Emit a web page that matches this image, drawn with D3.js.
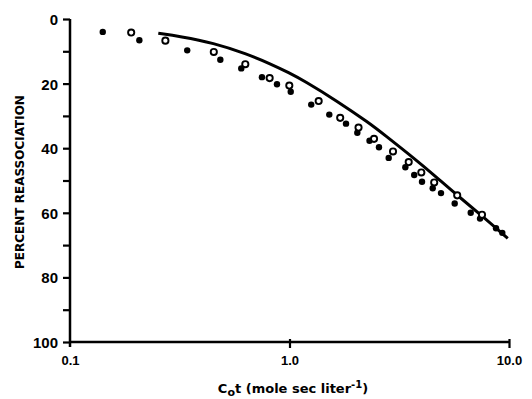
<!DOCTYPE html>
<html><head><meta charset="utf-8">
<script src="https://cdn.jsdelivr.net/npm/d3@7"></script>
<style>body{margin:0;background:#fff}text{font-family:"Liberation Sans",Arial,sans-serif;font-weight:bold;fill:#000}.ttl{font-family:"DejaVu Sans",sans-serif}</style>
</head><body><svg id="c" width="532" height="399"></svg>
<script>
// Filled circles (Cot, percent reassociation)
const filledCot = [0.141,0.207,0.342,0.484,0.603,0.749,0.877,1.013,1.256,1.518,1.809,2.037,2.315,2.557,2.831,3.371,3.700,4.015,4.492,4.90,5.658,6.693,7.38,8.727,9.322];
const filledPct = [4.0,6.6,9.7,12.6,15.3,18.0,20.2,22.5,26.5,29.6,32.4,35.2,37.7,39.7,43.0,45.9,48.3,50.4,52.4,53.9,57.1,60.0,61.8,64.8,66.2];
// Open circles
const openCot = [0.190,0.272,0.452,0.629,0.812,0.998,1.358,1.702,2.063,2.427,2.962,3.492,3.986,4.563,5.808,7.534];
const openPct = [4.2,6.7,10.2,14.0,18.3,20.6,25.4,30.6,33.6,37.1,41.0,44.3,47.5,50.6,54.6,60.6];
// Theoretical curve
const curveCot = [0.2525,0.317,0.450,0.638,0.815,1.0,1.156,1.641,2.327,2.675,3.798,4.6,5.81,7.53,9.87];
const curvePct = [4.4,5.4,7.4,10.8,13.8,16.7,19.0,25.3,32.4,35.6,43.8,48.6,54.6,60.9,67.9];
// Ticks
const yTicks = [0,10,20,30,40,50,60,70,80,90,100];
const yTickLabels = ["0","","20","","40","","60","","80","","100"];
const xTicks = [0.1,1,10];
const xTickLabels = ["0.1","1.0","10.0"];

const svg = d3.select("#c");
const x = d3.scaleLog().domain([0.1,10]).range([70,509]);
const y = d3.scaleLinear().domain([0,100]).range([19,342]);

// axes
const yAxis = d3.axisLeft(y).tickValues(yTicks).tickSize(7).tickPadding(5)
  .tickFormat((d,i)=>yTickLabels[i]);
const gy = svg.append("g").attr("transform","translate(70,0)").call(yAxis);
gy.select(".domain").attr("stroke","#000").attr("stroke-width",2.5).attr("d","M0,19V347");
gy.selectAll(".tick line").attr("stroke","#000").attr("stroke-width",2.2);
gy.selectAll(".tick text").attr("font-size",15).attr("dy","0.36em");

const xAxis = d3.axisBottom(x).tickValues(xTicks).tickSize(6).tickPadding(8)
  .tickFormat((d,i)=>xTickLabels[i]);
const gx = svg.append("g").attr("transform","translate(0,342)").call(xAxis);
gx.select(".domain").attr("stroke","#000").attr("stroke-width",2.5).attr("d","M70,0H509");
gx.selectAll(".tick line").attr("stroke","#000").attr("stroke-width",2.2).attr("y1",-3);
gx.selectAll(".tick text").attr("font-size",13);
gx.selectAll(".tick").filter(d=>d===0.1).select("line").remove();

// curve
const line = d3.line().x((d,i)=>x(curveCot[i])).y((d,i)=>y(curvePct[i])).curve(d3.curveBasis);
svg.append("path").datum(curvePct).attr("d",line).attr("fill","none").attr("stroke","#000").attr("stroke-width",3);

// points
svg.append("g").selectAll("circle").data(filledPct).join("circle")
  .attr("cx",(d,i)=>x(filledCot[i])).attr("cy",d=>y(d)).attr("r",3.2).attr("fill","#000");
svg.append("g").selectAll("circle").data(openPct).join("circle")
  .attr("cx",(d,i)=>x(openCot[i])).attr("cy",d=>y(d)).attr("r",3.1).attr("fill","#fff")
  .attr("stroke","#000").attr("stroke-width",1.9);

// titles
svg.append("text").attr("class","ttl").attr("transform","translate(24,182) rotate(-90)").attr("text-anchor","middle")
  .attr("font-size",12).text("PERCENT REASSOCIATION");
const t = svg.append("text").attr("class","ttl").attr("x",293).attr("y",393).attr("text-anchor","middle").attr("font-size",13);
t.append("tspan").text("C");
t.append("tspan").attr("dy",3).attr("font-size",11).text("o");
t.append("tspan").attr("dy",-3).text("t (mole sec liter");
t.append("tspan").attr("dy",-5).attr("font-size",10).text("-1");
t.append("tspan").attr("dy",5).text(")");
</script></body></html>
